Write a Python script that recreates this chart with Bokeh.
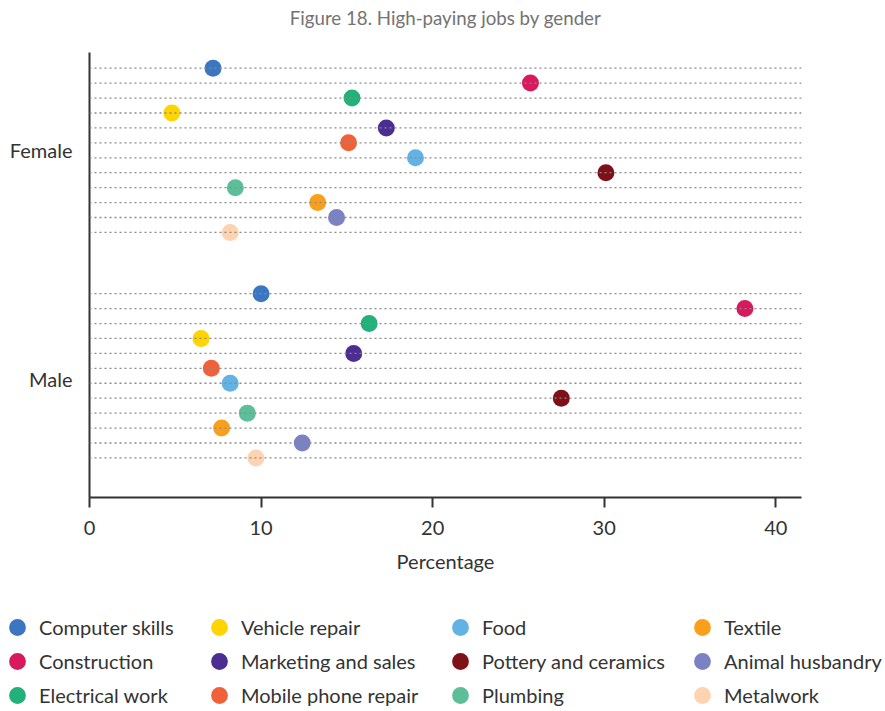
from bokeh.plotting import figure
from bokeh.models import Range1d, FixedTicker, Span, Legend, LegendItem
from bokeh.layouts import column, row
from bokeh.embed import file_html
from bokeh.resources import INLINE

jobs = ["Computer skills", "Construction", "Electrical work", "Vehicle repair",
        "Marketing and sales", "Mobile phone repair", "Food", "Pottery and ceramics",
        "Plumbing", "Textile", "Animal husbandry", "Metalwork"]
female = [7.2, 25.7, 15.3, 4.8, 17.3, 15.1, 19.0, 30.1, 8.5, 13.3, 14.4, 8.2]
male = [10.0, 38.2, 16.3, 6.5, 15.4, 7.1, 8.2, 27.5, 9.2, 7.7, 12.4, 9.7]
colors = ["#3b76c3", "#d71a5d", "#22b07b", "#ffd400", "#4c2d92", "#f0613a",
          "#62b2e4", "#7e1019", "#5dbf99", "#f8a01c", "#7b82c3", "#fdd3b2"]
groups = ["Female", "Male"]
x_ticks = [0, 10, 20, 30, 40]
title_text = "Figure 18. High-paying jobs by gender"

FONT = "Lato"
n = len(jobs)
gap = 4.1
female_y = [i for i in range(n)]
male_y = [i + n - 1 + gap for i in range(n)]
centers = [sum(female_y) / n, sum(male_y) / n + 0.2]

# title strip
t = figure(width=885, height=40, output_backend="svg", toolbar_location=None,
           x_axis_type=None, y_axis_type=None,
           x_range=Range1d(0, 1), y_range=Range1d(0, 1),
           min_border_left=89, min_border_right=84, min_border_top=29, min_border_bottom=0)
t.outline_line_color = None
t.grid.visible = False
t.title.text = title_text
t.title.align = "center"
t.title.vertical_align = "middle"
t.title.standoff = 0
t.title.text_font = FONT
t.title.text_font_style = "normal"
t.title.text_font_size = "18.7px"
t.title.text_color = "#737373"

p = figure(width=885, height=550, output_backend="svg", toolbar_location=None,
           x_range=Range1d(0, 41.5), y_range=Range1d(28.75, -1.05),
           min_border_left=89, min_border_right=84, min_border_top=12, min_border_bottom=93)
p.outline_line_color = None
p.xgrid.visible = False
p.ygrid.visible = False

for yy in female_y + male_y:
    p.add_layout(Span(location=yy, dimension="width", line_color="#8a8a8a",
                      line_width=1.3, line_dash="2 3"))

for j in range(n):
    p.scatter(x=[female[j], male[j]], y=[female_y[j], male_y[j]], size=17,
              fill_color=colors[j], line_color=None)

xa = p.xaxis[0]
xa.ticker = FixedTicker(ticks=x_ticks)
xa.minor_tick_line_color = None
xa.major_tick_in = 0
xa.major_tick_out = 10
xa.axis_line_width = 2
xa.axis_line_color = "#333333"
xa.major_tick_line_width = 2
xa.major_tick_line_color = "#333333"
xa.major_label_text_font = FONT
xa.major_label_text_font_size = "20px"
xa.major_label_text_color = "#333333"
xa.major_label_standoff = 13
xa.axis_label = "Percentage"
xa.axis_label_text_font = FONT
xa.axis_label_text_font_style = "normal"
xa.axis_label_text_font_size = "20px"
xa.axis_label_text_color = "#333333"
xa.axis_label_standoff = 11

ya = p.yaxis[0]
ya.ticker = FixedTicker(ticks=centers)
ya.major_label_overrides = {centers[0]: groups[0], centers[1]: groups[1]}
ya.minor_tick_line_color = None
ya.major_tick_line_color = None
ya.axis_line_width = 2
ya.axis_line_color = "#333333"
ya.major_label_text_font = FONT
ya.major_label_text_font_size = "20px"
ya.major_label_text_color = "#333333"
ya.major_label_standoff = 11

# legend strip (its renderers sit outside the visible ranges)
q = figure(width=885, height=121, output_backend="svg", toolbar_location=None,
           x_axis_type=None, y_axis_type=None,
           x_range=Range1d(1000, 1001), y_range=Range1d(1000, 1001),
           min_border_left=0, min_border_right=0, min_border_top=0, min_border_bottom=0)
q.outline_line_color = None
q.grid.visible = False

col_x = [-4, 198, 439, 681]
row_y = [63, 29, -5]
for j in range(n):
    r = q.scatter(x=[female[j], male[j]], y=[female_y[j], male_y[j]], size=17,
                  fill_color=colors[j], line_color=None)
    lg = Legend(items=[LegendItem(label=jobs[j], renderers=[r])],
                location=(col_x[j // 3], row_y[j % 3]), orientation="vertical",
                label_text_font=FONT, label_text_font_size="20px", label_text_color="#333333",
                label_height=20, glyph_height=42, glyph_width=42, label_standoff=1,
                spacing=0, padding=0, margin=0, border_line_color=None,
                background_fill_alpha=0)
    q.add_layout(lg, "center")

layout = column(t, p, row(q), spacing=0)
open("out.html", "w").write(file_html(layout, INLINE))
